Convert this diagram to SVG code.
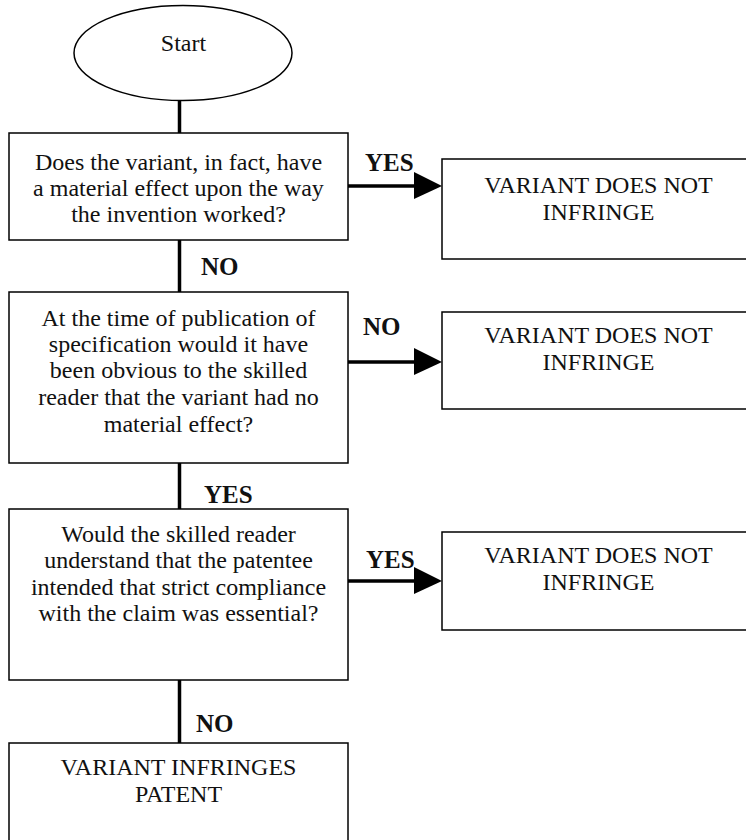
<svg xmlns="http://www.w3.org/2000/svg" width="746" height="840" viewBox="0 0 746 840">
<defs>
<style>
.box{fill:#fff;stroke:#000;stroke-width:1.5}
.t{font-family:"Liberation Serif","Times New Roman",serif;font-size:24px;fill:#111;text-anchor:middle}
.lbl{font-family:"Liberation Serif","Times New Roman",serif;font-size:25px;font-weight:bold;fill:#111}
.c{stroke:#000;stroke-width:3.5;fill:none}
.ah{fill:#000}
</style>
</defs>
<rect width="746" height="840" fill="#fff"/>
<g id="connectors">
<line class="c" x1="179.5" y1="101" x2="179.5" y2="133"/>
<line class="c" x1="179.5" y1="240" x2="179.5" y2="292"/>
<line class="c" x1="179.5" y1="463" x2="179.5" y2="509"/>
<line class="c" x1="179.5" y1="680" x2="179.5" y2="743"/>
<line class="c" x1="348" y1="186" x2="416" y2="186"/>
<polygon class="ah" points="414,172 442,186 414,199"/>
<line class="c" x1="348" y1="362" x2="416" y2="362"/>
<polygon class="ah" points="414,348 442,362 414,375"/>
<line class="c" x1="348" y1="581" x2="416" y2="581"/>
<polygon class="ah" points="414,567 442,581 414,594"/>
<text class="lbl" x="201" y="275">NO</text>
<text class="lbl" x="204" y="503">YES</text>
<text class="lbl" x="196" y="732">NO</text>
<text class="lbl" x="365" y="171">YES</text>
<text class="lbl" x="363" y="335">NO</text>
<text class="lbl" x="366" y="568">YES</text>
</g>
<g id="start">
<ellipse cx="183" cy="53" rx="109" ry="47.5" fill="#fff" stroke="#000" stroke-width="1.5"/>
<text class="t" x="183.5" y="51">Start</text>
</g>
<g id="q1">
<rect class="box" x="9" y="133" width="339" height="107"/>
<text class="t" x="178.5" y="170">Does the variant, in fact, have</text>
<text class="t" x="178.5" y="196">a material effect upon the way</text>
<text class="t" x="178.5" y="222">the invention worked?</text>
</g>
<g id="q2">
<rect class="box" x="9" y="292" width="339" height="171"/>
<text class="t" x="178.5" y="326">At the time of publication of</text>
<text class="t" x="178.5" y="352">specification would it have</text>
<text class="t" x="178.5" y="378">been obvious to the skilled</text>
<text class="t" x="178.5" y="405">reader that the variant had no</text>
<text class="t" x="178.5" y="432">material effect?</text>
</g>
<g id="q3">
<rect class="box" x="9" y="509" width="339" height="171"/>
<text class="t" x="178.5" y="542">Would the skilled reader</text>
<text class="t" x="178.5" y="568">understand that the patentee</text>
<text class="t" x="178.5" y="595">intended that strict compliance</text>
<text class="t" x="178.5" y="621">with the claim was essential?</text>
</g>
<g id="r1">
<rect class="box" x="442" y="159" width="320" height="100"/>
<text class="t" x="598.5" y="193">VARIANT DOES NOT</text>
<text class="t" x="598.5" y="220">INFRINGE</text>
</g>
<g id="r2">
<rect class="box" x="442" y="312" width="320" height="97"/>
<text class="t" x="598.5" y="343">VARIANT DOES NOT</text>
<text class="t" x="598.5" y="370">INFRINGE</text>
</g>
<g id="r3">
<rect class="box" x="442" y="532" width="320" height="98"/>
<text class="t" x="598.5" y="563">VARIANT DOES NOT</text>
<text class="t" x="598.5" y="590">INFRINGE</text>
</g>
<g id="end">
<rect class="box" x="9" y="743" width="339" height="120"/>
<text class="t" x="178.5" y="775">VARIANT INFRINGES</text>
<text class="t" x="178.5" y="802">PATENT</text>
</g>
</svg>
